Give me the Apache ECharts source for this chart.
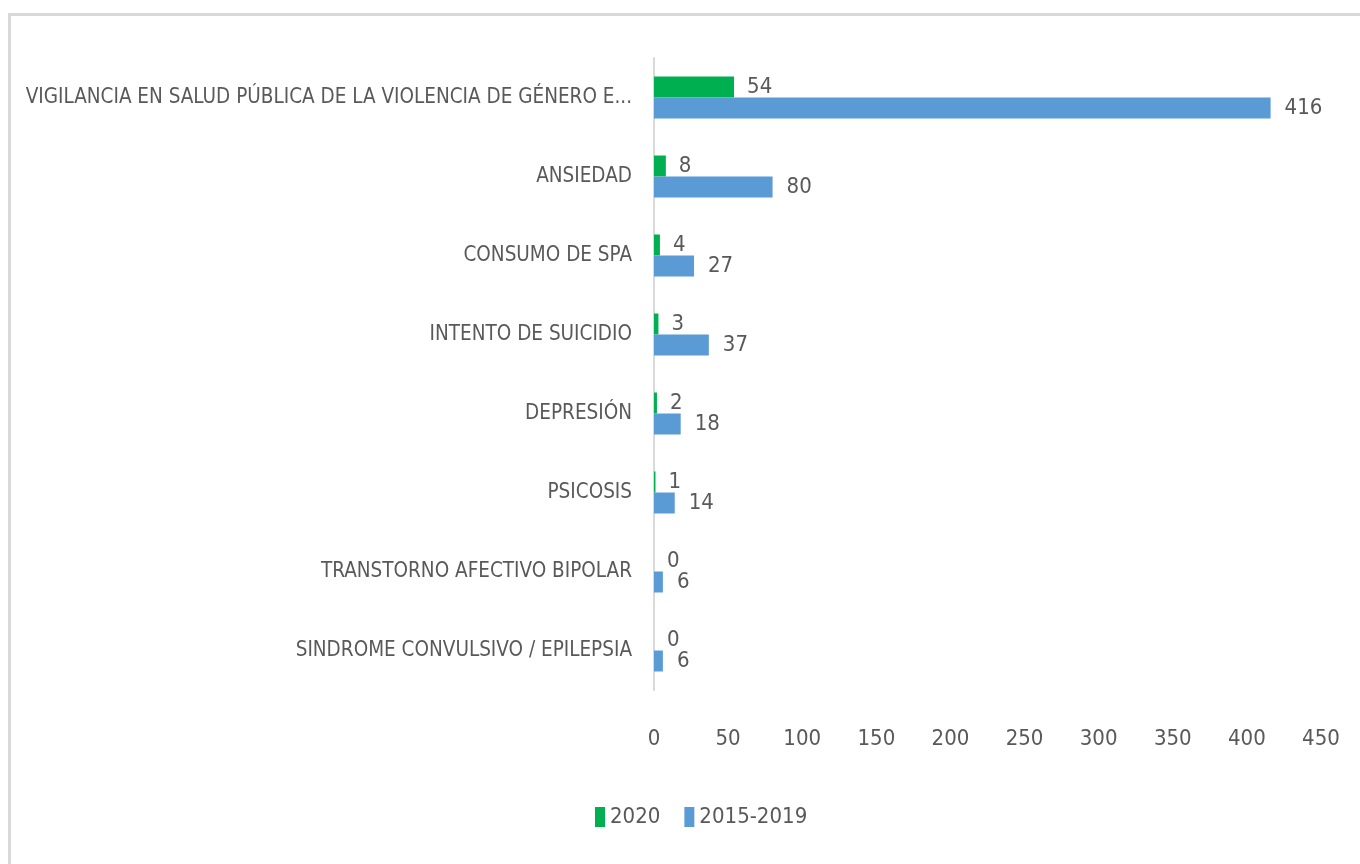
<!DOCTYPE html>
<html>
<head>
<meta charset="utf-8">
<script src="https://cdn.jsdelivr.net/npm/echarts@6/dist/echarts.min.js"></script>
<style>
  html, body { margin: 0; padding: 0; background: #fff; }
  .frame {
    position: absolute; left: 8px; top: 13px; width: 1400px; height: 900px;
    border: 3px solid #d9d9d9; box-sizing: border-box;
  }
  #chart { position: absolute; left: 0; top: 0; width: 1360px; height: 864px; }
</style>
</head>
<body>
<div class="frame"></div>
<div id="chart"></div>
<script>
const categories = [
  'VIGILANCIA EN SALUD PÚBLICA DE LA VIOLENCIA DE GÉNERO E...',
  'ANSIEDAD',
  'CONSUMO DE SPA',
  'INTENTO DE SUICIDIO',
  'DEPRESIÓN',
  'PSICOSIS',
  'TRANSTORNO AFECTIVO BIPOLAR',
  'SINDROME CONVULSIVO / EPILEPSIA'
]
const values2020 = [54, 8, 4, 3, 2, 1, 0, 0]
const values2015to2019 = [416, 80, 27, 37, 18, 14, 6, 6]

const font = '"DejaVu Sans Condensed", "Liberation Sans Narrow", sans-serif'
const textColor = '#595959'

const chart = echarts.init(document.getElementById('chart'))

const option = {
  animation: false,
  textStyle: { fontFamily: font },
  grid: { left: 654, right: 39, top: 58, bottom: 174, containLabel: false, outerBoundsMode: 'none' },
  legend: {
    bottom: 31,
    left: 590,
    itemWidth: 10,
    itemHeight: 20,
    itemGap: 24,
    icon: 'rect',
    textStyle: { color: textColor, fontSize: 22, fontFamily: font },
    data: ['2020', '2015-2019']
  },
  xAxis: {
    type: 'value',
    min: 0,
    max: 450,
    interval: 50,
    axisLine: { show: false },
    axisTick: { show: false },
    splitLine: { show: false },
    axisLabel: { color: textColor, fontSize: 22, margin: 38, fontFamily: font }
  },
  yAxis: {
    type: 'category',
    inverse: true,
    data: categories,
    axisLine: { show: true, lineStyle: { color: '#d9d9d9', width: 2 } },
    axisTick: { show: false },
    axisLabel: { color: textColor, fontSize: 20.5, margin: 22, fontFamily: font }
  },
  series: [
    {
      name: '2020',
      type: 'bar',
      data: values2020,
      barWidth: 21,
      barGap: '0%',
      itemStyle: { color: '#00b050' },
      label: { show: true, position: 'right', distance: 13, color: textColor, fontSize: 22, fontFamily: font }
    },
    {
      name: '2015-2019',
      type: 'bar',
      data: values2015to2019,
      barWidth: 21,
      barGap: '0%',
      itemStyle: { color: '#5b9bd5' },
      label: { show: true, position: 'right', distance: 14, color: textColor, fontSize: 22, fontFamily: font }
    }
  ]
}

chart.setOption(option)
</script>
</body>
</html>
